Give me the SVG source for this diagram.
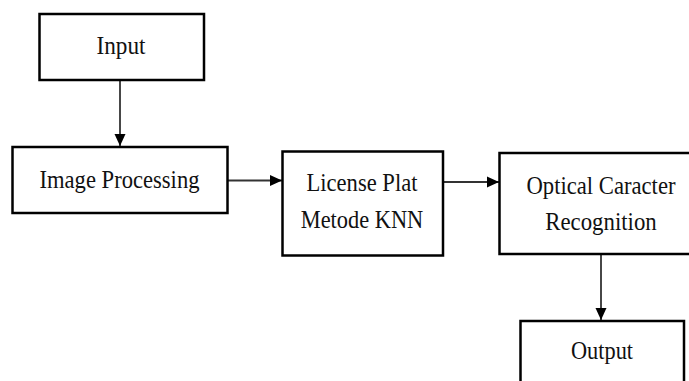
<svg xmlns="http://www.w3.org/2000/svg" width="689" height="381" viewBox="0 0 689 381">
<style>
.box{fill:#fff;stroke:#000;stroke-width:2.5}
.t{font-family:"Liberation Serif","Times New Roman",serif;font-size:25px;fill:#111;text-anchor:middle}
.c{stroke:#333;stroke-width:1.8;fill:none;marker-end:url(#ah)}
</style>
<defs>
<marker id="ah" markerUnits="userSpaceOnUse" markerWidth="13" markerHeight="13" viewBox="0 0 13 13" refX="12" refY="6.5" orient="auto">
<path d="M0,1 L12,6.5 L0,12 Z" fill="#000"/>
</marker>
</defs>
<rect width="689" height="381" fill="#fff"/>
<g id="connectors">
<line class="c" x1="120" y1="80" x2="120" y2="146"/>
<line class="c" x1="228" y1="180.5" x2="282" y2="180.5"/>
<line class="c" x1="443" y1="182" x2="499" y2="182"/>
<line class="c" x1="601" y1="254" x2="601" y2="320"/>
</g>
<g id="input">
<rect class="box" x="39.5" y="14" width="164.5" height="66"/>
<text class="t" x="121" y="53.5" textLength="49" lengthAdjust="spacingAndGlyphs">Input</text>
</g>
<g id="image-processing">
<rect class="box" x="12.5" y="147" width="215" height="66"/>
<text class="t" x="119.5" y="187.5" textLength="160" lengthAdjust="spacingAndGlyphs">Image Processing</text>
</g>
<g id="license-plat">
<rect class="box" x="282.5" y="151.5" width="160.5" height="104"/>
<text class="t" x="362" y="191" textLength="111" lengthAdjust="spacingAndGlyphs">License Plat</text>
<text class="t" x="362" y="227.5" textLength="122.5" lengthAdjust="spacingAndGlyphs">Metode KNN</text>
</g>
<g id="ocr">
<rect class="box" x="499.5" y="153" width="200" height="101"/>
<text class="t" x="601" y="193.5" textLength="149" lengthAdjust="spacingAndGlyphs">Optical Caracter</text>
<text class="t" x="601" y="229.5" textLength="111.5" lengthAdjust="spacingAndGlyphs">Recognition</text>
</g>
<g id="output">
<rect class="box" x="520.5" y="321" width="163.5" height="80"/>
<text class="t" x="602" y="358.5" textLength="62" lengthAdjust="spacingAndGlyphs">Output</text>
</g>
</svg>
